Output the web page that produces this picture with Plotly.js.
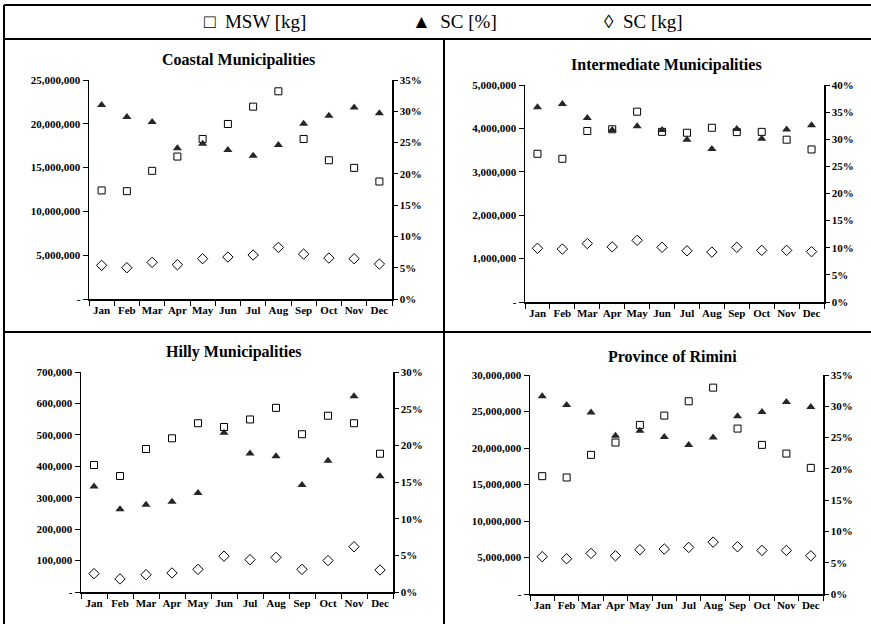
<!DOCTYPE html>
<html>
<head>
<meta charset="utf-8">
<script src="https://cdn.plot.ly/plotly-3.0.1.min.js"></script>
<style>html,body{margin:0;padding:0;background:#fff}#chart{width:871px;height:624px}</style>
</head>
<body>
<div id="chart"></div>
<script>
const months = ['Jan','Feb','Mar','Apr','May','Jun','Jul','Aug','Sep','Oct','Nov','Dec'];

const coastalMSW   = [12390000,12310000,14630000,16260000,18270000,19980000,21960000,23710000,18270000,15840000,14970000,13410000];
const coastalSCpct = [31.0,29.1,28.3,24.1,24.8,23.8,22.9,24.6,28.0,29.3,30.6,29.7];
const coastalSCkg  = [3840000,3570000,4180000,3910000,4600000,4790000,5020000,5890000,5130000,4670000,4600000,3990000];

const interMSW   = [3415000,3300000,3940000,3980000,4385000,3920000,3900000,4015000,3915000,3920000,3740000,3515000];
const interSCpct = [35.9,36.5,33.9,31.7,32.4,31.7,29.9,28.2,31.9,30.1,31.8,32.6];
const interSCkg  = [1238000,1220000,1346000,1270000,1420000,1260000,1180000,1150000,1260000,1190000,1190000,1160000];

const hillyMSW   = [404000,369000,455000,489000,537000,525000,549000,586000,502000,561000,537000,440000];
const hillySCpct = [14.4,11.3,11.9,12.3,13.5,21.7,18.9,18.5,14.6,17.9,26.7,15.8];
const hillySCkg  = [58500,41500,55000,60600,72000,114000,103000,110000,72000,100000,144000,70000];

const riminiMSW   = [16140000,15960000,19060000,20750000,23160000,24440000,26400000,28270000,22660000,20430000,19240000,17280000];
const riminiSCpct = [31.6,30.2,29.0,25.3,26.1,25.1,23.8,25.0,28.4,29.1,30.7,29.9];
const riminiSCkg  = [5110000,4830000,5560000,5240000,6060000,6160000,6380000,7110000,6470000,5970000,5970000,5240000];

const panelTitles = ['Coastal Municipalities','Intermediate Municipalities','Hilly Municipalities','Province of Rimini'];
const leftMax  = [25000000, 5000000, 700000, 30000000];
const leftStep = [5000000, 1000000, 100000, 5000000];
const rightMax = [35, 40, 30, 35];
const legendLabels = ['\u25A1\u00a0\u00a0MSW [kg]', '\u25B2\u00a0\u00a0SC [%]', '\u25CA\u00a0\u00a0SC [kg]'];

const W = 871, H = 624;
const FONT = '"Liberation Serif", "Times New Roman", serif';
const boxes = [[89,392,80,299],[525,824,85,302],[81,393,372,592],[530,823,375,594]];
const titlePos = [[238,60],[666,65],[234,352],[672,356]];

const series = [
  [coastalMSW, coastalSCpct, coastalSCkg],
  [interMSW, interSCpct, interSCkg],
  [hillyMSW, hillySCpct, hillySCkg],
  [riminiMSW, riminiSCpct, riminiSCkg]
];

const px = x => x / W;
const py = y => 1 - y / H;
const bold = s => '<b>' + s + '</b>';
const tickFont = {family: FONT, size: 11, color: '#000'};

const traces = [];
const layout = {
  width: W, height: H,
  margin: {l:0, r:0, t:0, b:0},
  paper_bgcolor: '#fff', plot_bgcolor: '#fff',
  showlegend: false, hovermode: false,
  font: {family: FONT, color: '#000'},
  annotations: [], shapes: []
};

for (let i = 0; i < 4; i++) {
  const xn = i === 0 ? 'x' : 'x' + (i + 1);
  const yl = i === 0 ? 'y' : 'y' + (2 * i + 1);
  const yr = 'y' + (2 * i + 2);
  const [msw, pct, kg] = series[i];
  traces.push({x: months, y: msw, xaxis: xn, yaxis: yl, type: 'scatter', mode: 'markers',
    marker: {symbol: 'square-open', size: 7, color: '#000', line: {width: 1, color: '#000'}}, cliponaxis: false});
  traces.push({x: months, y: kg, xaxis: xn, yaxis: yl, type: 'scatter', mode: 'markers',
    marker: {symbol: 'diamond-open', size: 8, color: '#000', line: {width: 1, color: '#000'}}, cliponaxis: false});
  traces.push({x: months, y: pct, xaxis: xn, yaxis: yr, type: 'scatter', mode: 'markers',
    marker: {symbol: 'triangle-up', size: 8, color: '#262626'}, cliponaxis: false});

  const b = boxes[i];
  const xKey = i === 0 ? 'xaxis' : 'xaxis' + (i + 1);
  const ylKey = i === 0 ? 'yaxis' : 'yaxis' + (2 * i + 1);
  const yrKey = 'yaxis' + (2 * i + 2);
  const yiKey = 'yaxis' + (9 + i);

  layout[xKey] = {
    domain: [px(b[0]), px(b[1])], anchor: yl, type: 'category',
    range: [-0.5, 11.5], tickson: 'boundaries', ticks: 'outside', ticklen: 5, tickwidth: 1,
    tickmode: 'array', tickvals: months, ticktext: months.map(bold), tickangle: 0,
    tickcolor: '#000', showline: true, linecolor: '#000', linewidth: 1.5,
    showgrid: false, zeroline: false, fixedrange: true, tickfont: tickFont
  };
  const tv = [], tt = [];
  for (let v = 0; v <= leftMax[i] + 1; v += leftStep[i]) {
    tv.push(v); tt.push(bold(v === 0 ? '-' : v.toLocaleString('en-US')));
  }
  const rv = [], rt = [];
  for (let v = 0; v <= rightMax[i]; v += 5) { rv.push(v); rt.push(bold(v + '%')); }
  layout[ylKey] = {
    domain: [py(b[3]), py(b[2])], anchor: xn, range: [0, leftMax[i]],
    tickmode: 'array', tickvals: tv, ticktext: tt,
    ticks: 'outside', ticklen: 5, tickwidth: 1, tickcolor: '#000',
    showline: true, linecolor: '#000', linewidth: 1.5, showgrid: false, zeroline: false,
    fixedrange: true, tickfont: tickFont
  };
  layout[yrKey] = {
    domain: [py(b[3]), py(b[2])], anchor: xn, overlaying: yl, side: 'right',
    range: [0, rightMax[i]], tickmode: 'array', tickvals: rv, ticktext: rt,
    ticks: 'outside', ticklen: 4, tickwidth: 1, tickcolor: '#000',
    showline: true, linecolor: '#000', linewidth: 1.5, showgrid: false, zeroline: false,
    fixedrange: true, tickfont: tickFont
  };
  // inner half of the crossing tick marks on the right axis
  layout[yiKey] = {
    domain: [py(b[3]), py(b[2])], anchor: xn, overlaying: yl, side: 'right',
    range: [0, rightMax[i]], tickmode: 'array', tickvals: rv, showticklabels: false,
    ticks: 'inside', ticklen: 4, tickwidth: 1, tickcolor: '#000',
    showline: false, showgrid: false, zeroline: false, fixedrange: true
  };

  layout.annotations.push({
    text: bold(panelTitles[i]), xref: 'paper', yref: 'paper',
    x: px(titlePos[i][0]), y: py(titlePos[i][1]), xanchor: 'center', yanchor: 'middle',
    showarrow: false, font: {family: FONT, size: 16, color: '#000'}
  });
}

const legX = [255, 454, 643];
legendLabels.forEach((t, k) => {
  layout.annotations.push({
    text: t, xref: 'paper', yref: 'paper', x: px(legX[k]), y: py(22),
    xanchor: 'center', yanchor: 'middle', showarrow: false,
    font: {family: FONT, size: 19, color: '#000'}
  });
});

const line = (x0, y0, x1, y1) => ({type: 'line', xref: 'paper', yref: 'paper',
  x0: px(x0), y0: py(y0), x1: px(x1), y1: py(y1), line: {color: '#000', width: 2}});
layout.shapes.push(line(4, 5, 871, 5));
layout.shapes.push(line(4, 5, 4, 624));
layout.shapes.push(line(4, 39, 871, 39));
layout.shapes.push(line(444, 39, 444, 624));
layout.shapes.push(line(4, 332, 871, 332));

Plotly.newPlot('chart', traces, layout, {staticPlot: true, displayModeBar: false});
</script>
</body>
</html>
